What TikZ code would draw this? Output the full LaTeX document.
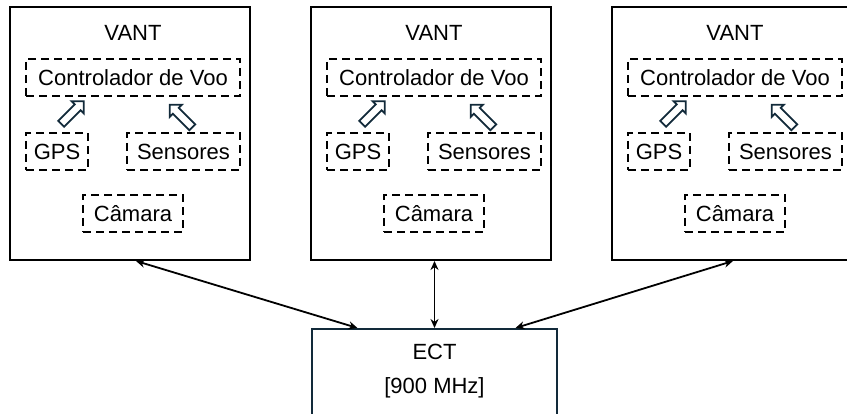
\documentclass[tikz,border=0pt]{standalone}
\usepackage{fontspec}
\setmainfont{Liberation Sans}
\usetikzlibrary{arrows.meta,shapes.arrows,positioning,calc}
\definecolor{slate}{RGB}{18,42,58}
\begin{document}
\begin{tikzpicture}[x=1pt,y=1pt,
    font=\fontsize{22}{26}\selectfont,
    vantbox/.style={draw, line width=2pt, minimum width=240, minimum height=253, inner sep=0},
    part/.style={draw, dash pattern=on 8pt off 5pt, line width=1.8pt, minimum height=37, inner sep=0},
    hollow/.style={single arrow, draw=slate, fill=white, line width=1.8pt, minimum height=32,
        inner xsep=0, inner ysep=3.2pt, single arrow head extend=4.5pt, single arrow tip angle=90},
    link/.style={{Stealth[length=9pt,width=8pt]}-{Stealth[length=9pt,width=8pt]}, line width=1.8pt}]
    % --- Canvas ---
    \clip (0,0) rectangle (847,414);
    % --- VANT blocks ---
    \foreach \i/\xc in {1/130, 2/431, 3/732} {
        \node[vantbox] (vant\i) at (\xc,280.5) {};
        \node (title\i) at (\xc+3,381) {VANT};
        \node[part, minimum width=214] (ctrl\i) at (\xc+3,336.5) {Controlador de Voo};
        \node[part, minimum width=62] (gps\i) at (\xc-73,262.5) {GPS};
        \node[part, minimum width=113] (sens\i) at (\xc+53.5,262.5) {Sensores};
        \node[part, minimum width=100] (cam\i) at (\xc+3,200.5) {Câmara};
        % hollow arrows into the flight controller
        \node[hollow, rotate=45] (ga\i) at (\xc-59,300) {};
        \node[hollow, rotate=135] (sa\i) at (\xc+52.5,296.5) {};
    }
    % --- Ground station ---
    \node[draw=slate, line width=2pt, minimum width=245, minimum height=100, inner sep=0] (ect) at (434.5,35) {};
    \node (ectname) at (434.5,62) {ECT};
    \node (ectband) at (434.5,26) {[900 MHz]};
    \coordinate (e1) at ($(ect.north)+(-77,0)$);
    \coordinate (e3) at ($(ect.north)+(81,0)$);
    % --- Links ---
    \draw[link] ($(vant1.south)+(6,0)$) -- (e1);
    \draw[link] (ect.north |- vant2.south) -- (ect.north);
    \draw[link] ($(vant3.south)+(1,0)$) -- (e3);
\end{tikzpicture}
\end{document}
